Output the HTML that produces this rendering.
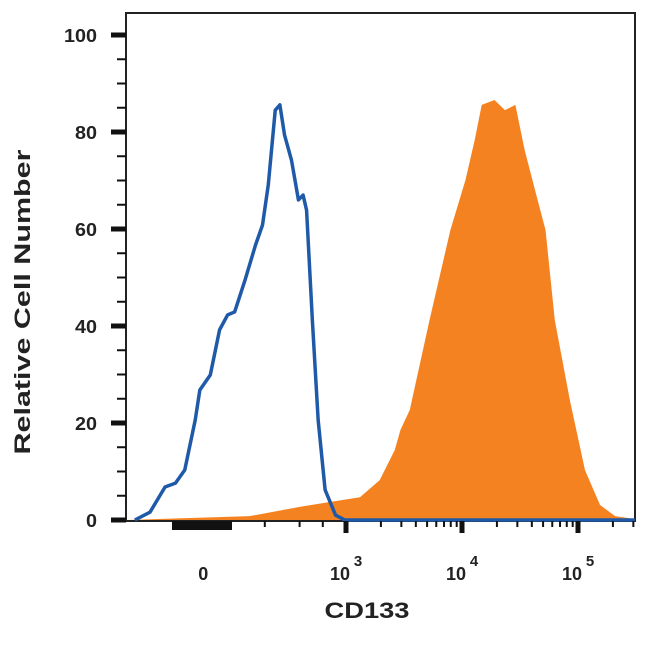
<!DOCTYPE html>
<html><head><meta charset="utf-8"><style>
body{margin:0;background:#fff;width:650px;height:641px;overflow:hidden}
text{font-family:"Liberation Sans",Arial,sans-serif;font-weight:bold;fill:#222}
</style></head><body>
<svg id="chart" width="650" height="641" viewBox="0 0 650 641">
<rect x="126" y="13" width="509" height="508" fill="none" stroke="#222" stroke-width="2"/>
<g id="series"></g>
<g id="axes"></g>
<text transform="translate(30,302) rotate(-90)" text-anchor="middle" font-size="22" textLength="305" lengthAdjust="spacingAndGlyphs">Relative Cell Number</text>
<text x="367" y="618" text-anchor="middle" font-size="22" textLength="85" lengthAdjust="spacingAndGlyphs">CD133</text>
</svg>
<script>
const isoX=[1.18,1.31,1.44,1.53,1.61,1.70,1.74,1.83,1.91,1.98,2.04,2.13,2.22,2.28,2.33,2.39,2.43,2.47,2.53,2.59,2.63,2.66,2.71,2.76,2.82,2.91,2.99,5.49];
const isoY=[0,1.6,6.8,7.6,10.3,20.6,26.8,29.9,39.2,42.3,42.9,49.5,56.7,60.8,69.1,84.5,85.6,79.4,74.2,66,67,63.9,41.2,20.6,6.2,1,0,0];
const cdX=[1.10,2.17,2.60,2.86,3.12,3.29,3.42,3.47,3.55,3.72,3.90,4.03,4.11,4.17,4.28,4.37,4.46,4.54,4.63,4.72,4.80,4.93,5.06,5.19,5.32,5.49];
const cdY=[0,0.8,2.7,3.7,4.7,8.2,14.4,18.6,22.7,41.2,59.8,70.1,78.4,85.6,86.6,84.5,85.6,76.3,68,59.8,41.2,24.7,10.3,3.1,0.8,0.2];
const yTicks=[0,20,40,60,80,100];
const xTickVals=[1.77,3,4,5];
const xTickLabels=["0","10","10","10"];
const xTickExp=["","3","4","5"];
const X=v=>346+(v-3)*116, Y=c=>520-c*4.85;
const NS="http://www.w3.org/2000/svg";
const mk=(t,a,p)=>{const e=document.createElementNS(NS,t);for(const k in a)e.setAttribute(k,a[k]);p.appendChild(e);return e;};
const S=document.getElementById('series'),A=document.getElementById('axes');
let d=`M${X(cdX[0])},${Y(0)}`;cdX.forEach((v,i)=>d+=`L${X(v)},${Y(cdY[i])}`);d+=`L${X(cdX[cdX.length-1])},${Y(0)}Z`;
const cd=mk('path',{d:d,fill:'#f58220'},S);


let d2='';isoX.forEach((v,i)=>d2+=(i?'L':'M')+X(v)+','+Y(isoY[i]));
const iso=mk('path',{d:d2,fill:'none',stroke:'#1f5aa8','stroke-width':3.5,'stroke-linejoin':'round'},S);


for(let c=0;c<=100;c+=5){const maj=c%20===0;mk('line',{x1:maj?111:117,x2:126,y1:Y(c),y2:Y(c),stroke:'#111','stroke-width':maj?5:2},A);}
yTicks.forEach(c=>{const s=String(c);const t=mk('text',{x:97,y:Y(c)+7,'text-anchor':'end','font-size':18,textLength:s.length*11,lengthAdjust:'spacingAndGlyphs'},A);t.textContent=s;

});
for(let dec=3;dec<=5;dec++){for(let m=2;m<=9;m++){const v=dec+Math.log10(m);if(X(v)<634)mk('line',{x1:X(v),x2:X(v),y1:521,y2:527,stroke:'#111','stroke-width':2},A);}}
[2.0,2.3,2.6,2.8].forEach(v=>mk('line',{x1:X(v),x2:X(v),y1:521,y2:527,stroke:'#111','stroke-width':2},A));
mk('rect',{x:172,y:521,width:60,height:9,fill:'#111'},A);
xTickVals.forEach((v,i)=>{
 if(i>0)mk('line',{x1:X(v),x2:X(v),y1:521,y2:533,stroke:'#111','stroke-width':5},A);
 const t=mk('text',{x:X(v)+(i?-6:0),y:580,'text-anchor':'middle','font-size':18},A);t.textContent=xTickLabels[i];
 
 
 if(xTickExp[i]){const e=mk('text',{x:X(v)+12,y:566,'text-anchor':'middle','font-size':15},A);e.textContent=xTickExp[i];
 
 }
});
</script>
</body></html>
